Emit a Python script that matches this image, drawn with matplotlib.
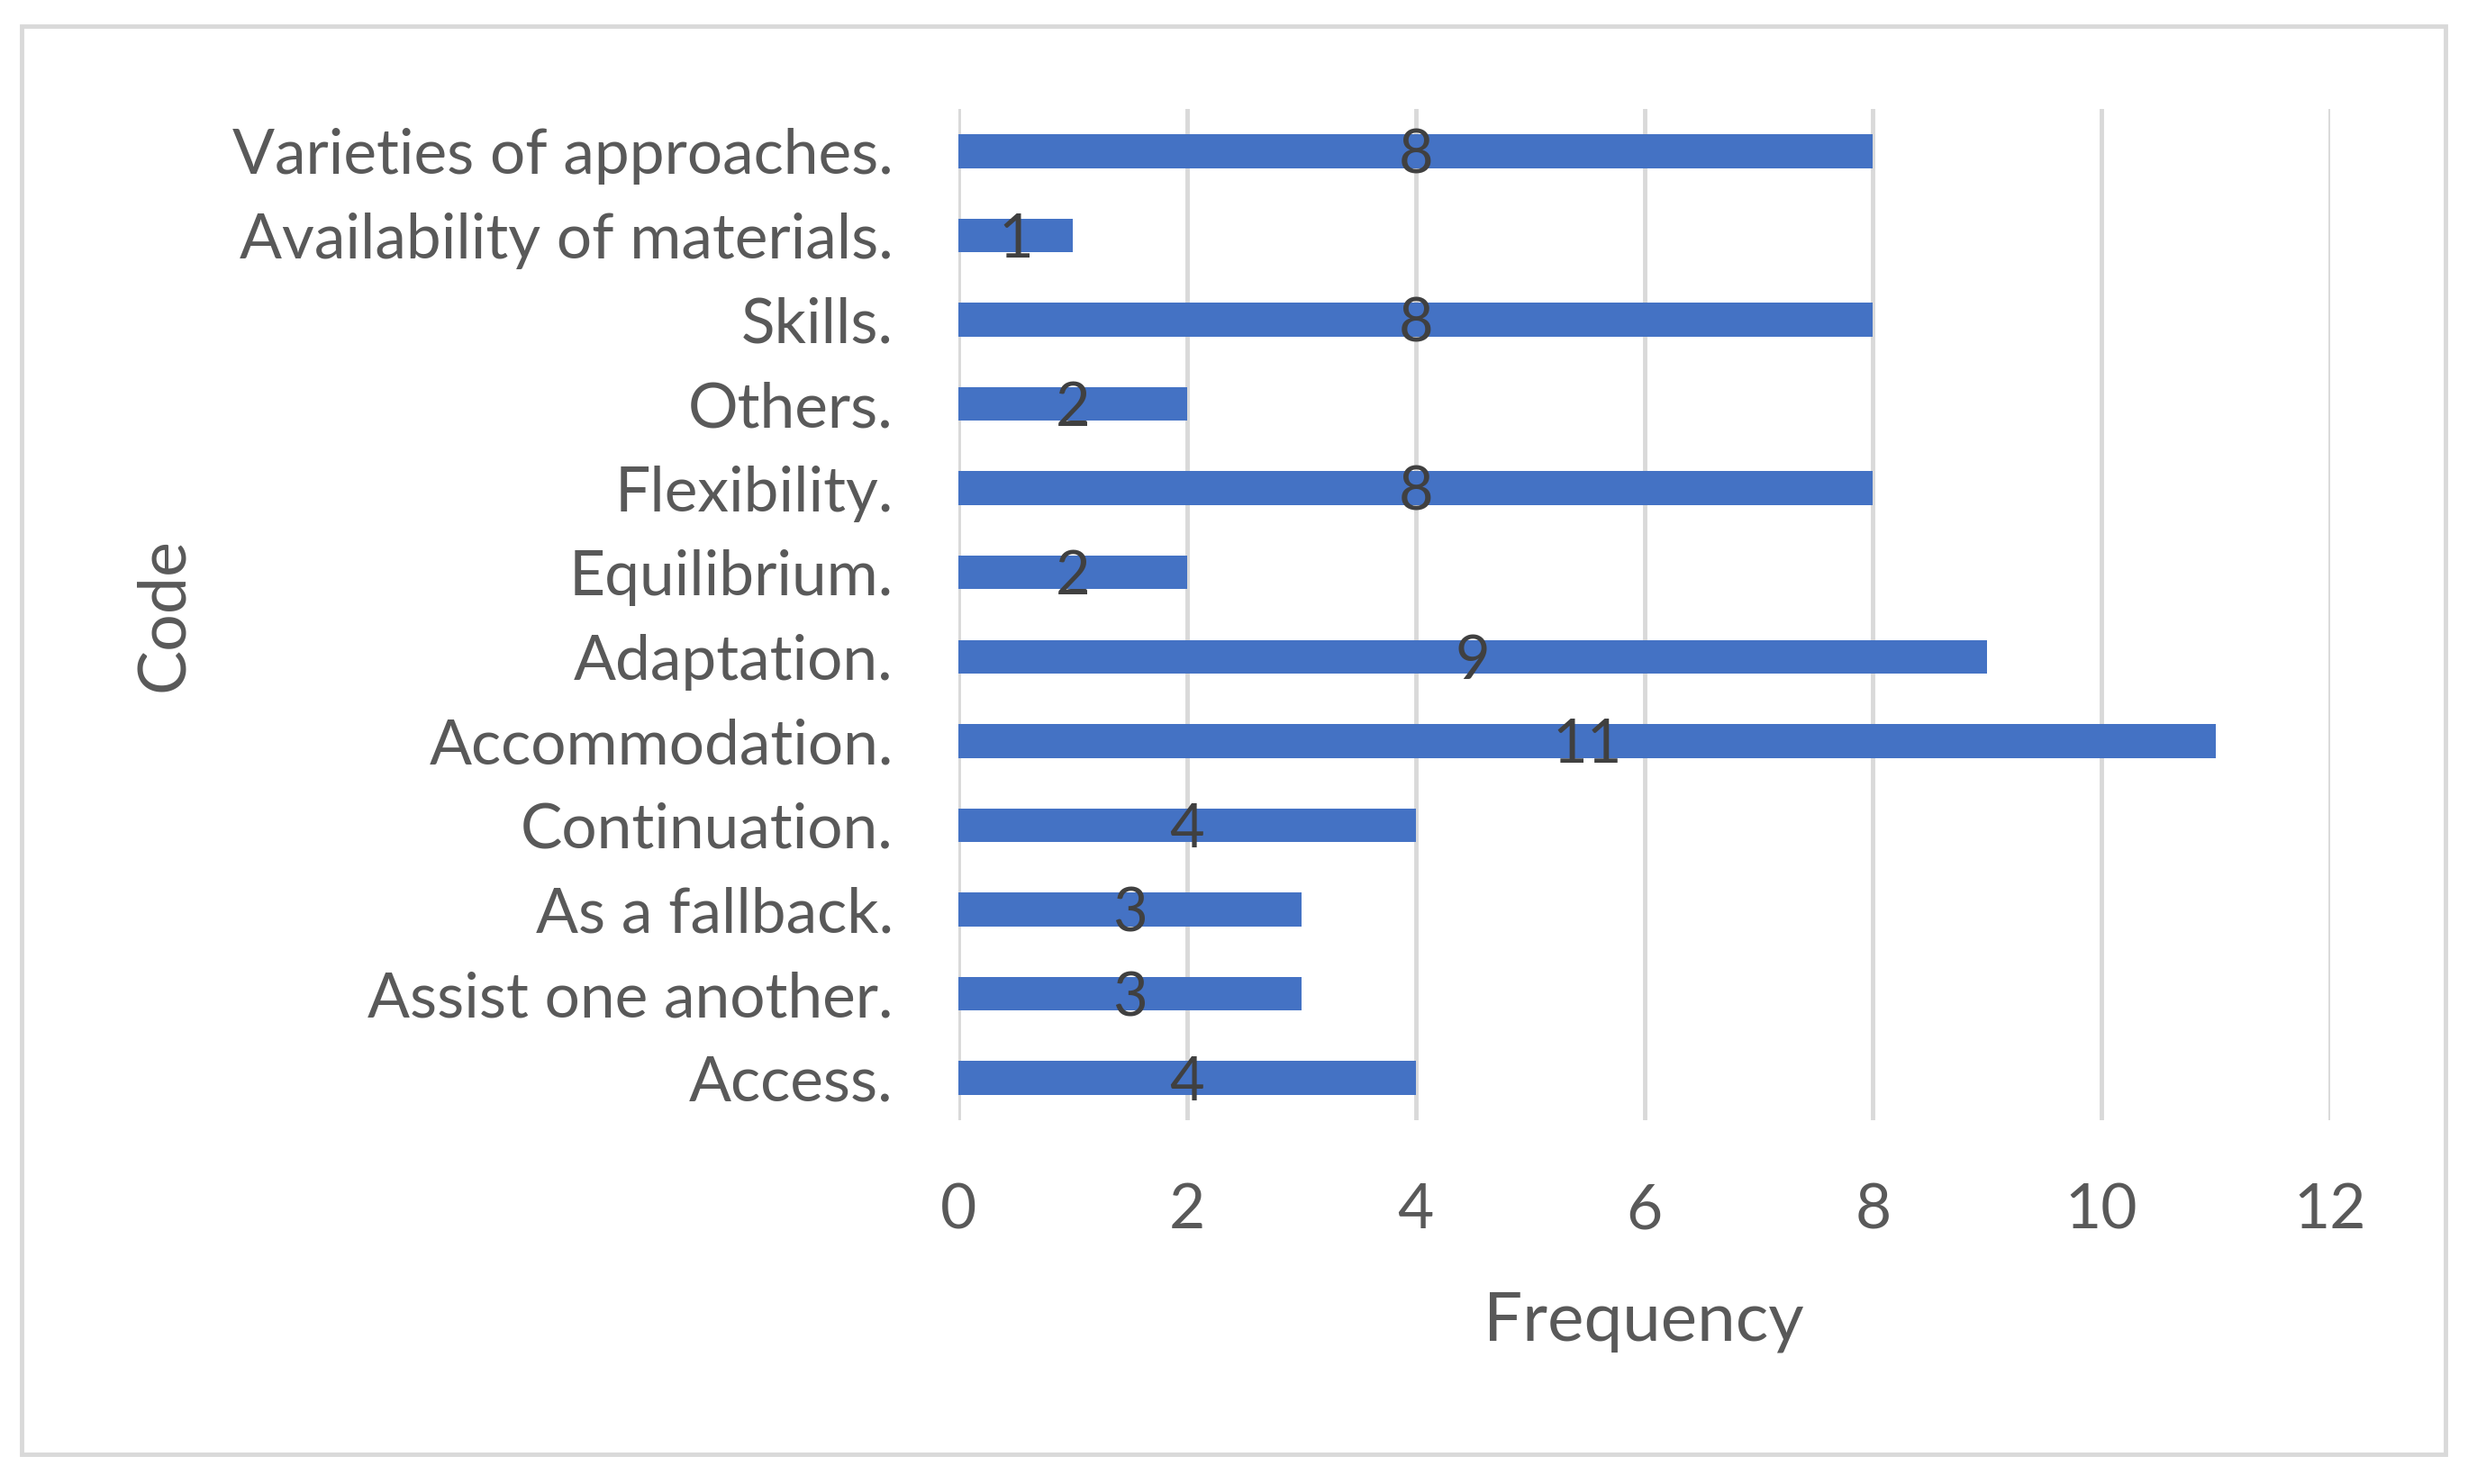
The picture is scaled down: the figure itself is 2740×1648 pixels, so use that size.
import matplotlib.pyplot as plt
from matplotlib.patches import Rectangle

plt.rcParams['font.family'] = ['Lato', 'DejaVu Sans']

# data, bottom to top as drawn
codes = ['Access.', 'Assist one another.', 'As a fallback.', 'Continuation.',
         'Accommodation.', 'Adaptation.', 'Equilibrium.', 'Flexibility.',
         'Others.', 'Skills.', 'Availability of materials.',
         'Varieties of approaches.']
frequency = [4, 3, 3, 4, 11, 9, 2, 8, 2, 8, 1, 8]
x_ticks = [0, 2, 4, 6, 8, 10, 12]

W, H = 2740, 1648
fig = plt.figure(figsize=(W / 100, H / 100), dpi=100)

# plot area in pixels: left 1064, right 2587, top 121, bottom 1244
ax = fig.add_axes([1064 / W, 1 - 1244 / H, (2587 - 1064) / W, (1244 - 121) / H])

ax.barh(range(len(codes)), frequency, height=0.4, color='#4472C4', zorder=3)
# value labels in the middle of each bar, sitting a touch low like Excel
for i, v in enumerate(frequency):
    ax.annotate(str(v), (v / 2, i), xytext=(0, -4), textcoords='offset points',
                ha='center', va='center', fontsize=48, color='#404040', zorder=4)

ax.set_xlim(0, 12)
ax.set_ylim(-0.5, len(codes) - 0.5)
ax.set_xticks(x_ticks)
ax.set_yticks(range(len(codes)))
ax.set_yticklabels(codes)
ax.tick_params(axis='both', length=0, labelsize=50, labelcolor='#595959')
ax.tick_params(axis='y', pad=52)
ax.tick_params(axis='x', pad=50)
ax.grid(axis='x', color='#D9D9D9', linewidth=3.5, zorder=0)
for s in ax.spines.values():
    s.set_visible(False)

fig.text(1825 / W, 1 - 1489 / H, 'Frequency', ha='center', va='baseline',
         fontsize=55, color='#595959')
fig.text(183 / W, 1 - 683 / H, 'Code', ha='center', va='center', rotation=90,
         fontsize=53, color='#595959')

# chart border
fig.patches.append(Rectangle((24 / W, 1 - 1615 / H), (2715 - 24) / W, (1615 - 29) / H,
                             transform=fig.transFigure, fill=False,
                             edgecolor='#D9D9D9', linewidth=3.5))

fig.savefig('out.png', dpi=100)
